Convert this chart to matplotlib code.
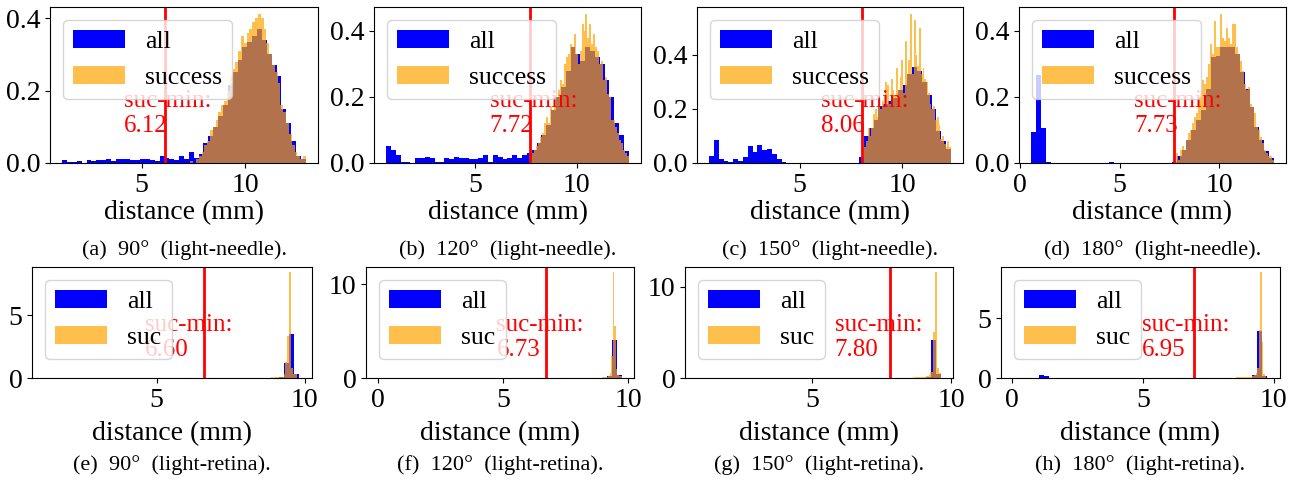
import numpy as np
import matplotlib as mpl
import matplotlib.pyplot as plt
from matplotlib.ticker import MultipleLocator

mpl.rcParams.update({
    "font.family": "serif",
    "font.serif": ["Liberation Serif", "DejaVu Serif"],
    "mathtext.fontset": "stix",
    "font.size": 20,
})

# ---- light-needle (top row): histogram ranges and bin heights (density) ----
needle_angles = [90, 120, 150, 180]
needle_suc_min = [6.12, 7.72, 8.06, 7.73]
needle_all_range = [(1.15, 12.94), (0.63, 12.57), (0.60, 12.36), (0.56, 12.74)]
needle_suc_max = [12.94, 12.57, 12.36, 12.74]

all_90_needle = [0.009, 0.003, 0.002, 0.005, 0.0, 0.008, 0.005, 0.008, 0.008, 0.012,
                 0.005, 0.012, 0.012, 0.012, 0.008, 0.008, 0.012, 0.012, 0.008, 0.005,
                 0.018, 0.015, 0.010, 0.008, 0.018, 0.012, 0.030, 0.015, 0.025, 0.055,
                 0.075, 0.100, 0.130, 0.160, 0.215, 0.250, 0.285, 0.320, 0.335, 0.350,
                 0.370, 0.340, 0.300, 0.270, 0.240, 0.150, 0.110, 0.060, 0.020, 0.010]
suc_90_needle = [0, 0, 0, 0, 0, 0, 0, 0, 0, 0.005,
                 0, 0.01, 0.02, 0.03, 0.05, 0.06, 0.09, 0.10, 0.12, 0.14,
                 0.16, 0.17, 0.20, 0.24, 0.26, 0.28, 0.31, 0.35, 0.33, 0.36,
                 0.37, 0.39, 0.40, 0.41, 0.40, 0.37, 0.33, 0.30, 0.27, 0.25,
                 0.22, 0.16, 0.14, 0.11, 0.08, 0.05, 0.03, 0.02, 0.01, 0.02]

all_120_needle = [0.050, 0.038, 0.025, 0.003, 0.003, 0.0, 0.016, 0.016, 0.018, 0.016,
                  0.003, 0.003, 0.014, 0.012, 0.018, 0.015, 0.014, 0.011, 0.012, 0.014,
                  0.025, 0.003, 0.024, 0.017, 0.012, 0.015, 0.024, 0.015, 0.025, 0.030,
                  0.040, 0.060, 0.086, 0.116, 0.160, 0.200, 0.230, 0.280, 0.350, 0.330,
                  0.310, 0.350, 0.340, 0.320, 0.300, 0.250, 0.200, 0.120, 0.086, 0.035]
suc_120_needle = [0.02, 0.03, 0.04, 0.05, 0.06, 0.08, 0.09, 0.12, 0.14, 0.12,
                  0.17, 0.16, 0.19, 0.20, 0.22, 0.25, 0.24, 0.30, 0.32, 0.33,
                  0.36, 0.35, 0.39, 0.33, 0.30, 0.34, 0.42, 0.40, 0.45, 0.38,
                  0.42, 0.36, 0.39, 0.35, 0.34, 0.30, 0.31, 0.25, 0.26, 0.21,
                  0.20, 0.13, 0.13, 0.11, 0.09, 0.07, 0.06, 0.04, 0.03, 0.02]

all_150_needle = [0.025, 0.084, 0.016, 0.009, 0.004, 0.016, 0.009, 0.021, 0.062, 0.040,
                  0.066, 0.047, 0.050, 0.035, 0.016, 0.004, 0, 0, 0, 0,
                  0, 0, 0, 0, 0, 0, 0, 0, 0, 0,
                  0, 0.021, 0.100, 0.130, 0.160, 0.210, 0.220, 0.230, 0.240, 0.270,
                  0.290, 0.330, 0.355, 0.340, 0.300, 0.250, 0.200, 0.120, 0.080, 0.050]
suc_150_needle = [0.06, 0.06, 0.08, 0.13, 0.10, 0.13, 0.18, 0.20, 0.17, 0.22,
                  0.20, 0.23, 0.21, 0.30, 0.29, 0.22, 0.31, 0.27, 0.25, 0.35,
                  0.27, 0.32, 0.38, 0.26, 0.45, 0.33, 0.38, 0.55, 0.33, 0.53,
                  0.40, 0.36, 0.50, 0.33, 0.35, 0.31, 0.30, 0.26, 0.22, 0.20,
                  0.21, 0.16, 0.17, 0.14, 0.09, 0.10, 0.07, 0.06, 0.08, 0.06]

all_180_needle = [0.093, 0.268, 0.107, 0.003, 0, 0, 0, 0, 0, 0,
                  0, 0, 0, 0, 0, 0, 0.003, 0, 0, 0,
                  0, 0, 0, 0, 0, 0, 0, 0, 0, 0.003,
                  0.020, 0.040, 0.070, 0.100, 0.130, 0.160, 0.225, 0.320, 0.325, 0.350,
                  0.350, 0.350, 0.330, 0.275, 0.225, 0.170, 0.110, 0.070, 0.035, 0.015]
suc_180_needle = [0.02, 0.03, 0.01, 0.04, 0.05, 0.04, 0.07, 0.09, 0.10, 0.12,
                  0.14, 0.15, 0.19, 0.22, 0.25, 0.24, 0.26, 0.30, 0.36, 0.33,
                  0.43, 0.35, 0.35, 0.45, 0.38, 0.37, 0.41, 0.38, 0.36, 0.42,
                  0.42, 0.35, 0.33, 0.31, 0.28, 0.24, 0.22, 0.23, 0.18, 0.17,
                  0.15, 0.11, 0.10, 0.08, 0.06, 0.04, 0.03, 0.02, 0.02, 0.01]

# ---- light-retina (bottom row) ----
retina_angles = [90, 120, 150, 180]
retina_suc_min = [6.60, 6.73, 7.80, 6.95]
retina_all_range = [(1.23, 9.81), (0.00, 9.75), (0.85, 9.62), (0.06, 9.75)]
retina_suc_max = [9.72, 9.75, 9.62, 9.70]

all_90_retina = [0.02, 0.01, 0.02, 0.01, 0.01, 0.02, 0.01, 0.02, 0.02, 0.01,
                 0.02, 0.01, 0.01, 0.02, 0.02, 0.01, 0.02, 0.01, 0.02, 0.02,
                 0.01, 0.02, 0.01, 0.02, 0.01, 0.02, 0.02, 0.01, 0.01, 0.02,
                 0.02, 0.01, 0.02, 0.01, 0.02, 0.02, 0.01, 0.02, 0.01, 0.02,
                 0.02, 0.01, 0.02, 0.02, 0.01, 0.02, 0.05, 1.20, 3.50, 0.35]
suc_90_retina = [0.03, 0.02, 0.03, 0.03, 0.02, 0.03, 0.02, 0.03, 0.03, 0.02,
                 0.03, 0.02, 0.03, 0.03, 0.02, 0.03, 0.03, 0.02, 0.03, 0.02,
                 0.03, 0.03, 0.02, 0.03, 0.02, 0.03, 0.03, 0.02, 0.03, 0.03,
                 0.02, 0.03, 0.03, 0.02, 0.03, 0.03, 0.04, 0.03, 0.04, 0.05,
                 0.05, 0.08, 0.10, 0.30, 1.30, 3.30, 8.40, 0.80, 0.30, 0.30]

all_120_retina = [0.01, 0.02, 0.01, 0.01, 0.02, 0.01, 0.01, 0.01, 0.02, 0.01,
                  0.01, 0.02, 0.01, 0.01, 0.01, 0.02, 0.01, 0.01, 0.02, 0.01,
                  0.01, 0.01, 0.02, 0.01, 0.01, 0.02, 0.01, 0.01, 0.01, 0.02,
                  0.01, 0.01, 0.02, 0.01, 0.01, 0.01, 0.02, 0.01, 0.01, 0.02,
                  0.01, 0.01, 0.01, 0.02, 0.01, 0.02, 0.03, 0.25, 4.00, 0.30]
suc_120_retina = [0.02, 0.02, 0.03, 0.02, 0.02, 0.03, 0.02, 0.02, 0.03, 0.02,
                  0.02, 0.03, 0.02, 0.02, 0.03, 0.02, 0.02, 0.03, 0.02, 0.02,
                  0.03, 0.02, 0.02, 0.03, 0.02, 0.02, 0.03, 0.02, 0.03, 0.03,
                  0.03, 0.03, 0.04, 0.03, 0.04, 0.05, 0.05, 0.06, 0.08, 0.10,
                  0.15, 0.25, 0.50, 2.30, 11.26, 5.50, 1.00, 0.30, 0.25, 0.25]

all_150_retina = [0.01, 0.01, 0.02, 0.01, 0.01, 0.02, 0.01, 0.01, 0.01, 0.02,
                  0.01, 0.01, 0.02, 0.01, 0.01, 0.01, 0.02, 0.01, 0.01, 0.02,
                  0.01, 0.01, 0.01, 0.02, 0.01, 0.01, 0.02, 0.01, 0.01, 0.01,
                  0.02, 0.01, 0.01, 0.02, 0.01, 0.01, 0.01, 0.02, 0.01, 0.01,
                  0.02, 0.01, 0.01, 0.01, 0.02, 0.03, 0.05, 0.15, 4.20, 0.40]
suc_150_retina = [0.03, 0.03, 0.04, 0.03, 0.03, 0.04, 0.03, 0.03, 0.04, 0.03,
                  0.03, 0.04, 0.03, 0.04, 0.04, 0.03, 0.04, 0.04, 0.05, 0.04,
                  0.05, 0.05, 0.06, 0.05, 0.06, 0.07, 0.06, 0.08, 0.08, 0.10,
                  0.10, 0.12, 0.12, 0.15, 0.15, 0.18, 0.20, 0.25, 0.30, 0.70,
                  0.70, 0.70, 5.10, 5.10, 11.60, 11.60, 1.10, 1.10, 0.50, 0.50]

all_180_retina = [0.01, 0.01, 0.02, 0.01, 0.02, 0.28, 0.14, 0.02, 0.01, 0.01,
                  0.02, 0.01, 0.01, 0.01, 0.02, 0.01, 0.01, 0.02, 0.01, 0.01,
                  0.01, 0.02, 0.01, 0.01, 0.02, 0.01, 0.01, 0.01, 0.02, 0.01,
                  0.01, 0.02, 0.01, 0.01, 0.01, 0.02, 0.01, 0.01, 0.02, 0.01,
                  0.01, 0.01, 0.02, 0.01, 0.02, 0.02, 0.03, 0.28, 3.90, 0.20]
suc_180_retina = [0.03, 0.02, 0.03, 0.03, 0.02, 0.03, 0.02, 0.03, 0.03, 0.02,
                  0.03, 0.03, 0.02, 0.03, 0.03, 0.02, 0.03, 0.03, 0.03, 0.02,
                  0.03, 0.03, 0.03, 0.04, 0.03, 0.04, 0.04, 0.03, 0.04, 0.05,
                  0.05, 0.05, 0.06, 0.06, 0.07, 0.08, 0.08, 0.10, 0.10, 0.12,
                  0.15, 0.20, 0.25, 0.40, 0.85, 4.00, 8.85, 3.00, 0.30, 0.20]

needle_all = [all_90_needle, all_120_needle, all_150_needle, all_180_needle]
needle_suc = [suc_90_needle, suc_120_needle, suc_150_needle, suc_180_needle]
retina_all = [all_90_retina, all_120_retina, all_150_retina, all_180_retina]
retina_suc = [suc_90_retina, suc_120_retina, suc_150_retina, suc_180_retina]

letters_top = ["a", "b", "c", "d"]
letters_bot = ["e", "f", "g", "h"]

W, H = 1299, 483
top_left = [50, 374, 697, 1019]
top_right = [318, 641, 963, 1286]
bot_left = [32, 366, 685, 1001]
bot_right = [312, 634, 953, 1280]


def draw_panel(ax, all_rng, all_h, suc_min, suc_hi, suc_h, suc_label, ystep, lpad):
    all_edges = np.linspace(all_rng[0], all_rng[1], len(all_h) + 1)
    suc_edges = np.linspace(suc_min, suc_hi, len(suc_h) + 1)
    ax.hist((all_edges[:-1] + all_edges[1:]) / 2, bins=all_edges, weights=all_h,
            color="blue", label="all")
    ax.hist((suc_edges[:-1] + suc_edges[1:]) / 2, bins=suc_edges, weights=suc_h,
            color="orange", alpha=0.7, label=suc_label)
    ax.axvline(suc_min, color="red", lw=2)
    ymax = ax.get_ylim()[1]
    ax.text(suc_min - 2, 0.2 * ymax, f"suc-min:\n{suc_min:.2f}", color="red",
            fontsize=18, linespacing=1.15)
    ax.legend(loc="upper left", fontsize=18.5)
    ax.set_xlabel("distance (mm)", labelpad=lpad)
    ax.xaxis.set_major_locator(MultipleLocator(5))
    ax.yaxis.set_major_locator(MultipleLocator(ystep))


fig = plt.figure(figsize=(W / 100, H / 100), dpi=100)

for i in range(4):
    ax = fig.add_axes([top_left[i] / W, 1 - 163 / H,
                       (top_right[i] - top_left[i]) / W, 156 / H])
    draw_panel(ax, needle_all_range[i], needle_all[i], needle_suc_min[i],
               needle_suc_max[i], needle_suc[i], "success", 0.2, 2)
    cx = (top_left[i] + top_right[i]) / 2 / W
    fig.text(cx, 1 - 250 / H,
             f"({letters_top[i]})  {needle_angles[i]}°  (light-needle).",
             ha="center", va="center", fontsize=16)

for i in range(4):
    ax = fig.add_axes([bot_left[i] / W, 1 - 378 / H,
                       (bot_right[i] - bot_left[i]) / W, 111 / H])
    ystep = 5 if retina_angles[i] in (90, 180) else 10
    draw_panel(ax, retina_all_range[i], retina_all[i], retina_suc_min[i],
               retina_suc_max[i], retina_suc[i], "suc", ystep, 6)
    cx = (bot_left[i] + bot_right[i]) / 2 / W
    fig.text(cx, 1 - 465 / H,
             f"({letters_bot[i]})  {retina_angles[i]}°  (light-retina).",
             ha="center", va="center", fontsize=16)

fig.savefig("out.png", dpi=100)
